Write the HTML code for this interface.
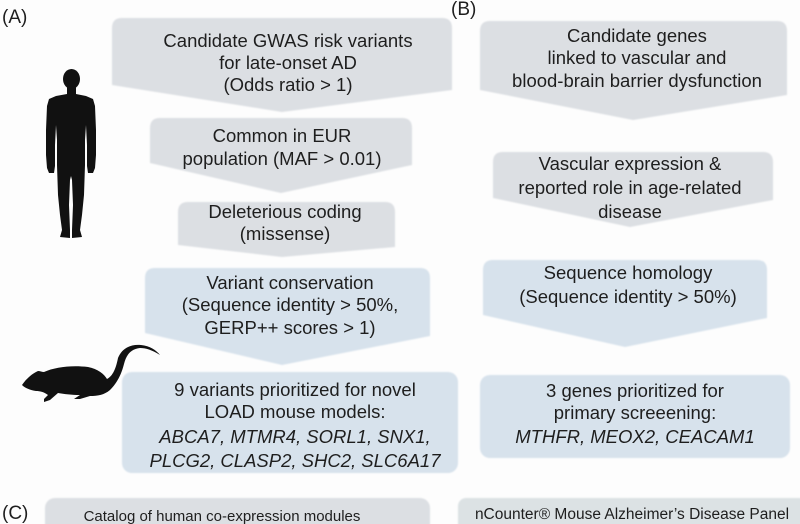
<!DOCTYPE html>
<html><head><meta charset="utf-8"><style>
html,body{margin:0;padding:0;background:#fff;}
svg{display:block;}
text{font-family:"Liberation Sans",Arial,sans-serif;fill:#1e1e1e;}
</style></head><body>
<svg width="800" height="524" viewBox="0 0 800 524" xmlns="http://www.w3.org/2000/svg">
<defs><filter id="s" x="-5%" y="-5%" width="110%" height="110%"><feGaussianBlur stdDeviation="0.7"/></filter></defs>
<rect width="800" height="524" fill="#fdfdfd"/>
<g filter="url(#s)">
<!-- A -->
<path d="M122,18 H442 Q452,18 452,28 V90 L282,112 L112,85 V28 Q112,18 122,18 Z" fill="#dcdfe3"/>
<path d="M160,118 H402 Q412,118 412,128 V165 L281,193 L150,163 V128 Q150,118 160,118 Z" fill="#dcdfe3"/>
<path d="M188,202 H385 Q395,202 395,212 V247 L282,257 L178,245 V212 Q178,202 188,202 Z" fill="#dcdfe3"/>
<path d="M155,268 H420 Q430,268 430,278 V336 L282,365 L145,333 V278 Q145,268 155,268 Z" fill="#d7e2ec"/>
<rect x="122" y="372" width="336" height="101" rx="10" fill="#d7e2ec"/>
<rect x="45" y="498" width="385" height="40" rx="10" fill="#dcdfe3"/>
<!-- B -->
<path d="M490,21 H777 Q787,21 787,31 V95 L633,120 L480,90 V31 Q480,21 490,21 Z" fill="#dcdfe3"/>
<path d="M503,152 H763 Q773,152 773,162 V200 L630,227 L493,198 V162 Q493,152 503,152 Z" fill="#dcdfe3"/>
<path d="M493,260 H757 Q767,260 767,270 V318 L625,347 L483,315 V270 Q483,260 493,260 Z" fill="#d7e2ec"/>
<rect x="480" y="375" width="310" height="83" rx="10" fill="#d7e2ec"/>
<rect x="458" y="498" width="350" height="40" rx="8" fill="#dce2e4"/>
</g>
<!-- human -->
<g fill="#111">
<ellipse cx="71.5" cy="79" rx="8.5" ry="10"/>
<path d="M67,86 L67,94 L56,96 L49,99 L47,106 L46,130 L46,155 L47,168 L49,173 L54,173 L55,166 L55,145 L56,125 L57,140 L57,165 L58,195 L60,215 L62,230 L60,237 L70,238 L70,230 L69,205 L70,180 L71,176 L72,180 L73,205 L72,230 L72,238 L82,237 L80,230 L82,215 L84,195 L85,165 L85,140 L86,125 L87,145 L87,166 L88,173 L93,173 L95,168 L96,155 L96,130 L95,106 L93,99 L86,96 L76,94 L76,86 Z"/>
</g>
<!-- mouse -->
<path fill="#111" d="M22,385 C26,379 32,374 36,372 L38,371 C40,371 42,372 44,372 C55,367 72,365 88,367 C98,369 104,374 107,379 C113,376 116,368 118,358 C122,348 131,344 141,345 C150,346 156,350 160,355 C152,350 146,348 140,348 C130,349 126,356 124,364 C121,376 116,384 110,390 C104,395 98,396 90,396 L80,399 L74,399 L80,395 C72,395 64,394 58,393 L50,400 L44,402 L44,399 L48,395 C44,392 40,391 36,391 C30,390 25,388 22,385 Z"/>
<!-- labels -->
<text x="2" y="23" font-size="19">(A)</text>
<text x="451" y="15" font-size="19">(B)</text>
<text x="2" y="519" font-size="19">(C)</text>
<g font-size="18.5" text-anchor="middle">
<text x="288" y="47">Candidate GWAS risk variants</text>
<text x="288" y="69">for late-onset AD</text>
<text x="288" y="91">(Odds ratio &gt; 1)</text>
<text x="282" y="142">Common in EUR</text>
<text x="282" y="165">population (MAF &gt; 0.01)</text>
<text x="285" y="218">Deleterious coding</text>
<text x="285" y="240">(missense)</text>
<text x="290" y="289">Variant conservation</text>
<text x="290" y="311">(Sequence identity &gt; 50%,</text>
<text x="290" y="334">GERP++ scores &gt; 1)</text>
<text x="295" y="396">9 variants prioritized for novel</text>
<text x="295" y="418">LOAD mouse models:</text>
<text x="295" y="443" font-style="italic">ABCA7, MTMR4, SORL1, SNX1,</text>
<text x="295" y="467" font-style="italic">PLCG2, CLASP2, SHC2, SLC6A17</text>
<text x="637" y="42">Candidate genes</text>
<text x="637" y="64">linked to vascular and</text>
<text x="637" y="87">blood-brain barrier dysfunction</text>
<text x="630" y="170">Vascular expression &amp;</text>
<text x="630" y="194">reported role in age-related</text>
<text x="630" y="218">disease</text>
<text x="628" y="279">Sequence homology</text>
<text x="628" y="303">(Sequence identity &gt; 50%)</text>
<text x="635" y="397">3 genes prioritized for</text>
<text x="635" y="419">primary screeening:</text>
<text x="635" y="443" font-style="italic">MTHFR, MEOX2, CEACAM1</text>
</g>
<text x="222" y="521" font-size="15" text-anchor="middle">Catalog of human co-expression modules</text>
<text x="632" y="519" font-size="15.5" text-anchor="middle">nCounter® Mouse Alzheimer’s Disease Panel</text>
</svg>
</body></html>
